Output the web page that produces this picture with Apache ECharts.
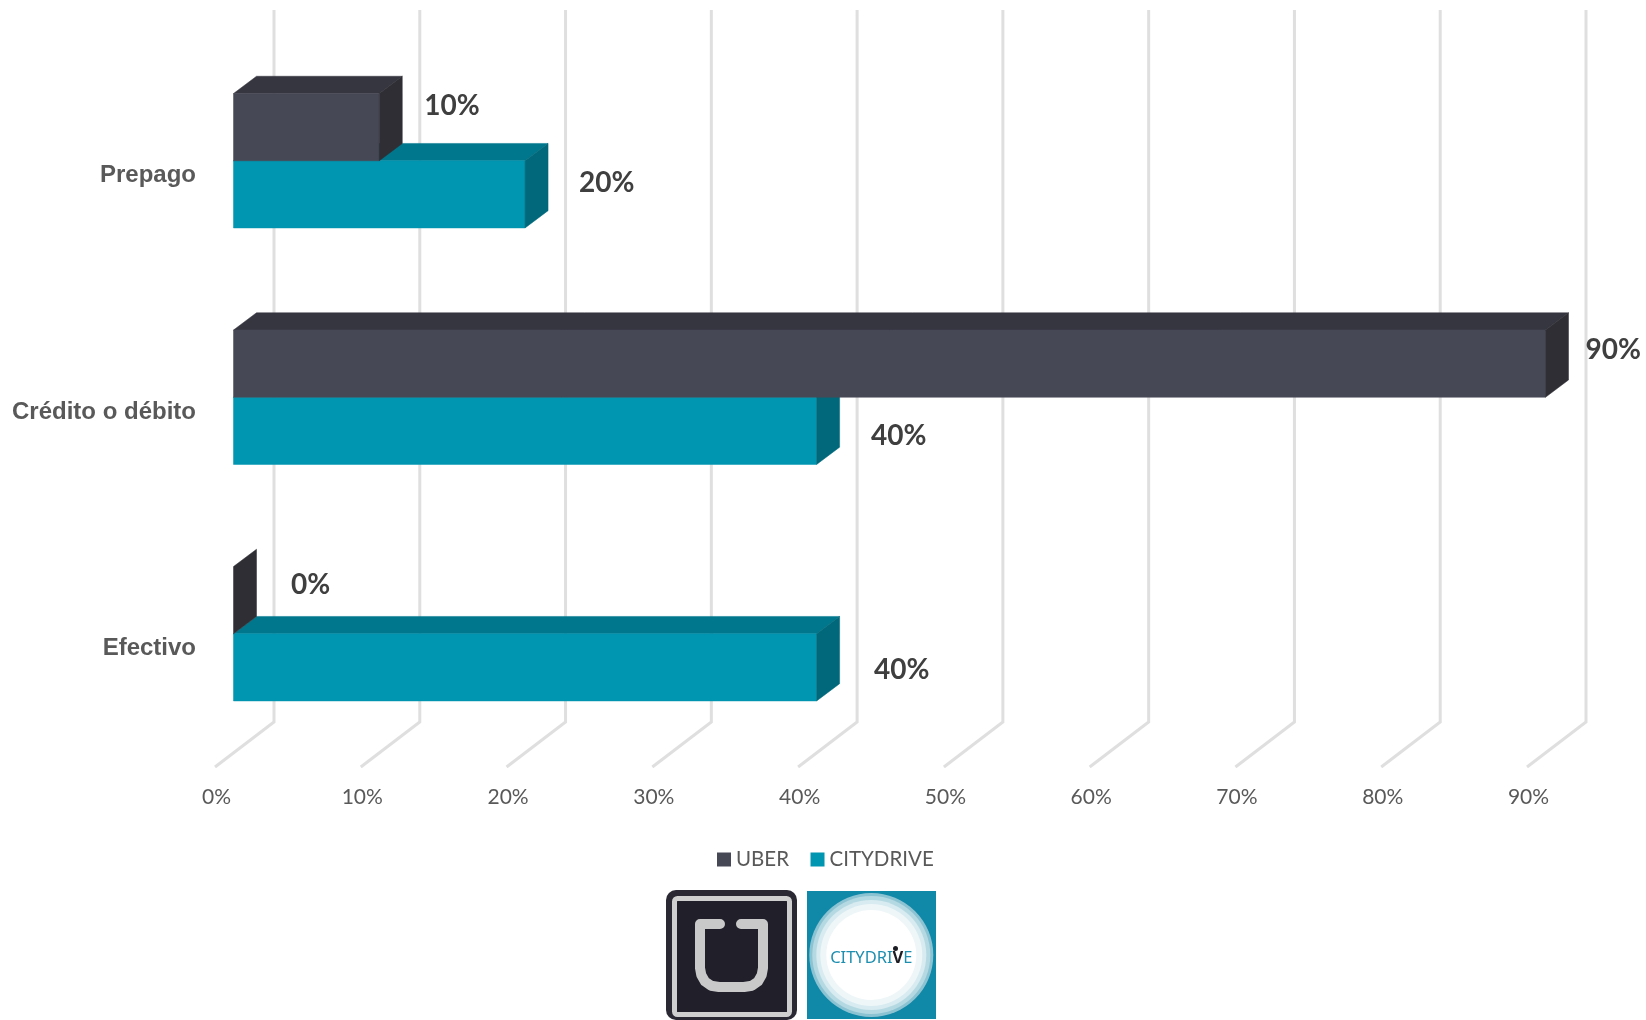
<!DOCTYPE html>
<html>
<head>
<meta charset="utf-8">
<style>html,body{margin:0;padding:0;background:#fff}#c{width:1646px;height:1020px}</style>
<script src="https://cdn.jsdelivr.net/npm/echarts@6/dist/echarts.min.js"></script>
</head>
<body>
<div id="c"></div>
<script>
const categories = ['Prepago', 'Crédito o débito', 'Efectivo'];
const uberValues = [10, 90, 0];
const cityValues = [20, 40, 40];
const axisTicks = [0, 10, 20, 30, 40, 50, 60, 70, 80, 90];
const seriesNames = ['UBER', 'CITYDRIVE'];

// Hand-placed data label nudges (px from bar end / bar centre), as in the original slide
const uberLabelNudge = [[45, -54.5], [40, -47.5], [57.5, -48.5]];
const cityLabelNudge = [[54, 22], [54.5, 39], [57.5, 36]];

const BAR_DX = 18.5, BAR_DY = -15, BAR_H = 67.2, DEPTH_X = 23, DEPTH_Y = 17.3;
const WALL_X = 59, WALL_Y = 45, WALL_TOP = 10;

const uberPalette = { front: '#474856', top: '#363641', side: '#2f2e35' };
const cityPalette = { front: '#0095b1', top: '#00778c', side: '#00687a' };

function bar3d(palette, above, nudges) {
  return function (params, api) {
    const v = api.value(0), cat = api.value(1);
    const p0 = api.coord([0, cat]), p1 = api.coord([v, cat]);
    const x0 = p0[0] + BAR_DX, x1 = p1[0] + BAR_DX, mid = p0[1] + BAR_DY;
    const yT = above ? mid - BAR_H : mid, yB = above ? mid : mid + BAR_H;
    const poly = (pts, fill) => ({ type: 'polygon', shape: { points: pts }, style: { fill: fill, stroke: fill, lineWidth: 0.5 } });
    const n = nudges[params.dataIndex];
    const children = [];
    if (x1 > x0) {
      children.push(poly([[x0, yT], [x0 + DEPTH_X, yT - DEPTH_Y], [x1 + DEPTH_X, yT - DEPTH_Y], [x1, yT]], palette.top));
      children.push(poly([[x0, yT], [x1, yT], [x1, yB], [x0, yB]], palette.front));
    }
    children.push(poly([[x1, yT], [x1 + DEPTH_X, yT - DEPTH_Y], [x1 + DEPTH_X, yB - DEPTH_Y], [x1, yB]], palette.side));
    children.push({
      type: 'text',
      z2: 10,
      style: {
        x: x1 + n[0], y: mid + n[1], text: v + '%',
        font: 'bold 28px Lato', fill: '#3f3f3f', align: 'left', verticalAlign: 'middle'
      }
    });
    return { type: 'group', children: children };
  };
}

function wallLine(params, api) {
  const x = api.coord([api.value(0), 0])[0];
  const cs = params.coordSys;
  const bottom = cs.y + cs.height;
  return {
    type: 'polyline',
    shape: { points: [[x + WALL_X, WALL_TOP], [x + WALL_X, bottom - WALL_Y], [x, bottom]] },
    style: { stroke: '#dfdfdf', lineWidth: 3, fill: null, lineJoin: 'miter' }
  };
}

const chart = echarts.init(document.getElementById('c'), null, { renderer: 'canvas' });
chart.setOption({
  animation: false,
  backgroundColor: '#ffffff',
  grid: { left: 215, top: 57.5, width: 1312, height: 709.5, containLabel: false },
  xAxis: {
    type: 'value', min: 0, max: 90, interval: 10,
    axisLine: { show: false }, axisTick: { show: false }, splitLine: { show: false },
    axisLabel: { formatter: '{value}%', margin: 20, padding: [0, 0, 0, 3], fontFamily: 'Lato', fontSize: 21, color: '#595959' }
  },
  yAxis: {
    type: 'category', inverse: true, data: categories,
    axisLine: { show: false }, axisTick: { show: false }, splitLine: { show: false },
    axisLabel: { margin: 19, padding: [5, 0, 0, 0], fontFamily: 'Liberation Sans', fontWeight: 'bold', fontSize: 24, color: '#595959' }
  },
  legend: {
    data: seriesNames, left: 712, top: 844, itemWidth: 14, itemHeight: 14, itemGap: 21.5,
    icon: 'rect', textStyle: { fontFamily: 'Lato', fontSize: 20.5, color: '#595959' }
  },
  series: [
    { type: 'custom', name: 'grid', z: 1, silent: true, renderItem: wallLine, data: axisTicks.map(t => [t]), encode: { x: 0 } },
    { type: 'custom', name: seriesNames[1], z: 2, itemStyle: { color: cityPalette.front }, renderItem: bar3d(cityPalette, false, cityLabelNudge),
      data: cityValues.map((v, i) => [v, i]), encode: { x: 0, y: 1 } },
    { type: 'custom', name: seriesNames[0], z: 3, itemStyle: { color: uberPalette.front }, renderItem: bar3d(uberPalette, true, uberLabelNudge),
      data: uberValues.map((v, i) => [v, i]), encode: { x: 0, y: 1 } }
  ],
  graphic: [
    // Uber logo
    { type: 'rect', shape: { x: 666, y: 890, width: 131, height: 130, r: 10 }, style: { fill: '#2a2833' } },
    { type: 'rect', shape: { x: 674.5, y: 898.5, width: 115, height: 116, r: 3 }, style: { fill: '#211f29', stroke: '#cfcfcf', lineWidth: 5 } },
    { type: 'polyline', shape: { points: [[720, 924], [700, 924], [700, 968], [701.3, 975], [705, 981.5], [711, 985.7], [719, 987], [744, 987], [752, 985.7], [758, 981.5], [761.7, 975], [763, 968], [763, 924], [741, 924]] },
      style: { fill: null, stroke: '#c9c9c9', lineWidth: 10, lineCap: 'round', lineJoin: 'round' } },
    // Citydrive logo
    { type: 'rect', shape: { x: 807, y: 891, width: 129, height: 128 }, style: { fill: '#1088a8' } },
    { type: 'circle', shape: { cx: 871.3, cy: 955, r: 62 }, style: { fill: '#8cc3d2' } },
    { type: 'circle', shape: { cx: 871.3, cy: 955, r: 59 }, style: { fill: '#b5d9e2' } },
    { type: 'circle', shape: { cx: 871.3, cy: 955, r: 55 }, style: { fill: '#d7ebf0' } },
    { type: 'circle', shape: { cx: 871.3, cy: 955, r: 51 }, style: { fill: '#eef6f8' } },
    { type: 'circle', shape: { cx: 871.3, cy: 955, r: 45 }, style: { fill: '#ffffff' } },
    { type: 'text', style: {
        x: 871.3, y: 958.5,
        text: '{a|CITYDRI}{b|V}{a|E}',
        align: 'center', verticalAlign: 'middle',
        rich: {
          a: { fontFamily: 'Noto Sans', fontSize: 16.5, fill: '#1f8fb0' },
          b: { fontFamily: 'Noto Sans', fontSize: 16.5, fontWeight: 'bold', fill: '#1c1c24' }
        }
    } },
    { type: 'circle', shape: { cx: 895.5, cy: 948.5, r: 2.5 }, style: { fill: '#1c1c24' } }
  ]
});
</script>
</body>
</html>
